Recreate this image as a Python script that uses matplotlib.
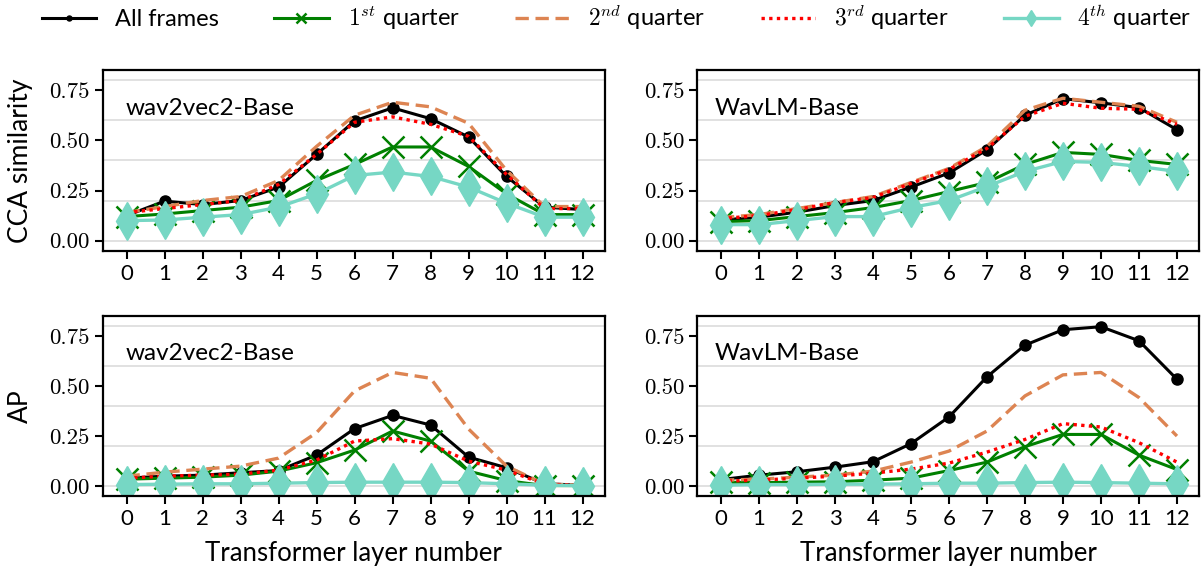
import matplotlib
matplotlib.use("Agg")
import matplotlib.pyplot as plt
from matplotlib.ticker import FixedLocator, FixedFormatter

layers = list(range(13))

# CCA similarity, wav2vec2-Base
cca_w2v_all = [0.125, 0.197, 0.18, 0.2, 0.267, 0.43, 0.597, 0.662, 0.608, 0.517, 0.32, 0.167, 0.155]
cca_w2v_q1 = [0.12, 0.133, 0.15, 0.167, 0.2, 0.3, 0.38, 0.467, 0.467, 0.37, 0.233, 0.13, 0.13]
cca_w2v_q2 = [0.14, 0.17, 0.2, 0.22, 0.3, 0.47, 0.625, 0.69, 0.667, 0.585, 0.35, 0.17, 0.17]
cca_w2v_q3 = [0.14, 0.16, 0.18, 0.2, 0.28, 0.43, 0.59, 0.617, 0.58, 0.52, 0.33, 0.16, 0.16]
cca_w2v_q4 = [0.1, 0.103, 0.117, 0.13, 0.167, 0.233, 0.325, 0.342, 0.32, 0.267, 0.187, 0.117, 0.117]

# CCA similarity, WavLM-Base
cca_wlm_all = [0.103, 0.117, 0.142, 0.175, 0.2, 0.267, 0.337, 0.453, 0.625, 0.708, 0.687, 0.663, 0.553]
cca_wlm_q1 = [0.095, 0.1, 0.12, 0.14, 0.165, 0.2, 0.245, 0.29, 0.38, 0.44, 0.43, 0.4, 0.38]
cca_wlm_q2 = [0.115, 0.13, 0.16, 0.19, 0.22, 0.29, 0.36, 0.47, 0.65, 0.71, 0.69, 0.67, 0.59]
cca_wlm_q3 = [0.11, 0.125, 0.155, 0.19, 0.215, 0.285, 0.355, 0.46, 0.62, 0.685, 0.66, 0.655, 0.58]
cca_wlm_q4 = [0.08, 0.08, 0.1, 0.12, 0.12, 0.165, 0.2, 0.27, 0.345, 0.395, 0.39, 0.37, 0.345]

# AP, wav2vec2-Base
ap_w2v_all = [0.04, 0.05, 0.055, 0.067, 0.078, 0.155, 0.287, 0.353, 0.305, 0.145, 0.092, 0.012, 0.005]
ap_w2v_q1 = [0.035, 0.04, 0.045, 0.055, 0.075, 0.117, 0.18, 0.275, 0.225, 0.075, 0.028, 0.003, 0.003]
ap_w2v_q2 = [0.05, 0.07, 0.085, 0.1, 0.14, 0.267, 0.475, 0.567, 0.538, 0.285, 0.1, 0.01, 0.005]
ap_w2v_q3 = [0.04, 0.05, 0.055, 0.06, 0.08, 0.13, 0.225, 0.237, 0.21, 0.125, 0.08, 0.01, 0.005]
ap_w2v_q4 = [0.008, 0.01, 0.012, 0.012, 0.015, 0.018, 0.02, 0.02, 0.02, 0.018, 0.012, 0.005, 0.003]

# AP, WavLM-Base
ap_wlm_all = [0.033, 0.055, 0.072, 0.095, 0.122, 0.212, 0.345, 0.545, 0.703, 0.78, 0.795, 0.725, 0.533]
ap_wlm_q1 = [0.02, 0.018, 0.02, 0.022, 0.03, 0.04, 0.078, 0.12, 0.197, 0.258, 0.258, 0.155, 0.083]
ap_wlm_q2 = [0.03, 0.035, 0.045, 0.055, 0.075, 0.12, 0.175, 0.275, 0.45, 0.555, 0.567, 0.442, 0.25]
ap_wlm_q3 = [0.025, 0.03, 0.04, 0.05, 0.065, 0.085, 0.115, 0.17, 0.233, 0.312, 0.295, 0.217, 0.12]
ap_wlm_q4 = [0.005, 0.008, 0.008, 0.01, 0.01, 0.012, 0.015, 0.015, 0.018, 0.02, 0.018, 0.015, 0.012]

panels = [
    ("wav2vec2-Base", "CCA similarity", [cca_w2v_all, cca_w2v_q1, cca_w2v_q2, cca_w2v_q3, cca_w2v_q4]),
    ("WavLM-Base", None, [cca_wlm_all, cca_wlm_q1, cca_wlm_q2, cca_wlm_q3, cca_wlm_q4]),
    ("wav2vec2-Base", "AP", [ap_w2v_all, ap_w2v_q1, ap_w2v_q2, ap_w2v_q3, ap_w2v_q4]),
    ("WavLM-Base", None, [ap_wlm_all, ap_wlm_q1, ap_wlm_q2, ap_wlm_q3, ap_wlm_q4]),
]

labels = ["All frames", r"$1^{st}$ quarter", r"$2^{nd}$ quarter", r"$3^{rd}$ quarter", r"$4^{th}$ quarter"]
yticks = [0.0, 0.25, 0.5, 0.75]
ytick_labels = ["0.00", "0.25", "0.50", "0.75"]
grid_y = [0.0, 0.2, 0.4, 0.6, 0.8]

styles = [
    dict(color="black", linestyle="-", marker="o", markersize=8, linewidth=2.2),
    dict(color="green", linestyle="-", marker="x", markersize=16, markeredgewidth=1.8, linewidth=2.2),
    dict(color="#dd8452", linestyle=(0, (4, 2)), marker=None, linewidth=2.4),
    dict(color="red", linestyle=(0, (1, 1.3)), marker=None, linewidth=2.4),
    dict(color="#76d7c4", linestyle="-", marker="d", markersize=19, linewidth=2.4),
]

plt.rcParams["font.family"] = ["Lato", "DejaVu Sans"]
plt.rcParams["mathtext.fontset"] = "cm"
plt.rcParams["font.size"] = 15

fig, axes = plt.subplots(2, 2, figsize=(12.02, 5.75), dpi=100)
fig.subplots_adjust(left=0.0857, right=0.9975, top=0.878, bottom=0.137, wspace=0.185, hspace=0.36)

handles = []
for ax, (name, ylabel, series) in zip(axes.flat, panels):
    for vals, st, lab in zip(series, styles, labels):
        (ln,) = ax.plot(layers, vals, label=lab, **st)
        if ax is axes[0, 0]:
            handles.append(ln)
    ax.set_xlim(-0.62, 12.58)
    ax.set_ylim(-0.05, 0.85)
    ax.set_xticks(layers)
    ax.yaxis.set_major_locator(FixedLocator(yticks))
    ax.yaxis.set_major_formatter(FixedFormatter(ytick_labels))
    ax.yaxis.set_minor_locator(FixedLocator(grid_y))
    ax.yaxis.remove_overlapping_locs = False
    ax.grid(which="minor", axis="y", color="#dcdcdc", linewidth=1.2)
    ax.set_axisbelow(True)
    ax.tick_params(which="major", length=6, width=1.5, direction="out")
    ax.tick_params(axis="x", labelsize=16)
    ax.tick_params(which="minor", length=0)
    for lab in ax.get_yticklabels():
        lab.set_fontfamily("cmr10")
        lab.set_fontsize(16.5)
    for sp in ax.spines.values():
        sp.set_linewidth(1.6)
    ax.text(0.045 if name.startswith("wav2") else 0.034, 0.79, name, transform=ax.transAxes,
            fontsize=17.5, va="center", ha="left")
    if ylabel:
        ax.set_ylabel(ylabel, fontsize=19, labelpad=12)

for ax in axes[1]:
    ax.set_xlabel("Transformer layer number", fontsize=18.5, labelpad=8)
fig.align_ylabels(axes[:, 0])

fig.legend(handles, labels, loc="upper center", bbox_to_anchor=(0.513, 1.032), ncol=5, frameon=False,
           fontsize=17, handlelength=2.3, handletextpad=0.8, columnspacing=2.35, markerscale=0.45)

fig.savefig("out.png", dpi=100)
